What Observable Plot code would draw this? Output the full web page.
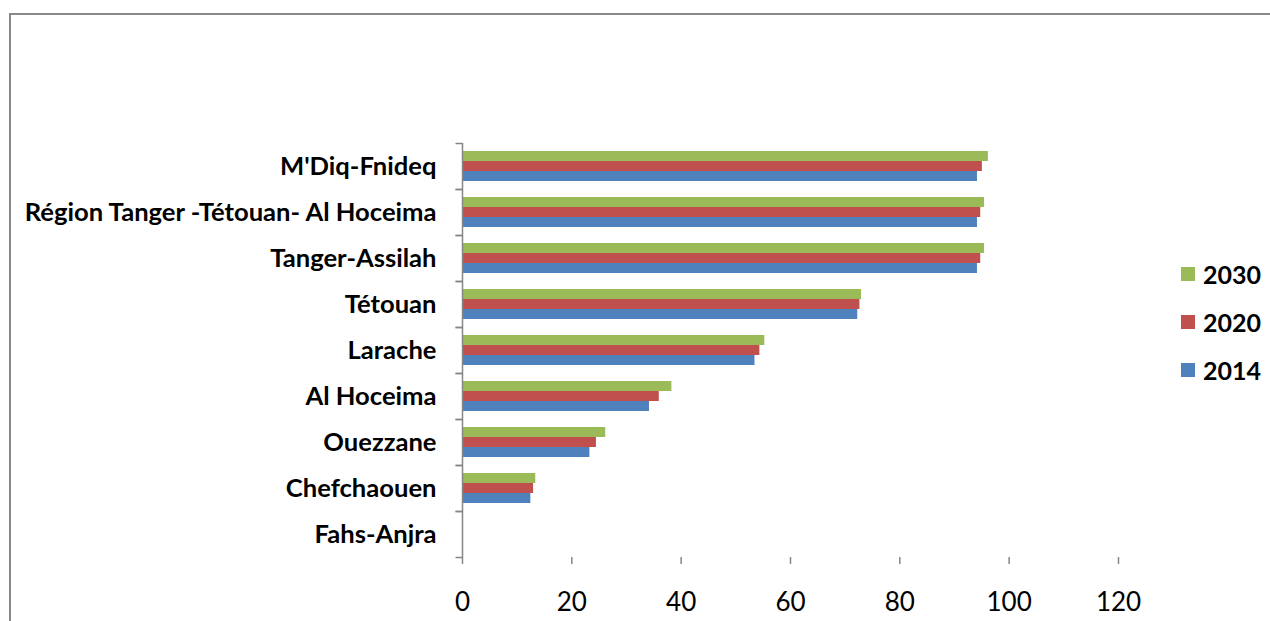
<!DOCTYPE html>
<html><head><meta charset="utf-8">
<script src="https://cdn.jsdelivr.net/npm/d3@7"></script>
<script src="https://cdn.jsdelivr.net/npm/@observablehq/plot@0.6"></script>
<style>
html,body{margin:0;padding:0;background:#fff;overflow:hidden;width:1270px;height:621px}
#wrap{position:relative;width:1270px;height:621px;overflow:hidden}
#border{position:absolute;left:9px;top:13px;width:1400px;height:800px;border:2px solid #898989;box-sizing:border-box;pointer-events:none}
#chart{position:absolute;left:0;top:0}
#legend{position:absolute;left:1181px;top:250px}
#legend .lg-swatches{font-family:Lato,sans-serif !important;font-size:25px !important;font-weight:bold;color:#000;margin:0 !important}
#legend .lg-swatch{height:48px;display:flex;align-items:center;padding:0 !important;margin:0 !important}
#legend .lg-swatch > svg{margin-right:8px !important}
</style></head><body>
<div id="wrap"><div id="border"></div><div id="chart"></div><div id="legend"></div></div>
<script>
const regions = ["M'Diq-Fnideq","Région Tanger -Tétouan- Al Hoceima","Tanger-Assilah","Tétouan","Larache","Al Hoceima","Ouezzane","Chefchaouen","Fahs-Anjra"];
const years = ["2030","2020","2014"];
const v2014 = [94.2, 94.2, 94.2, 72.3, 53.5, 34.2, 23.3, 12.5, 0];
const v2020 = [95.1, 94.8, 94.8, 72.7, 54.4, 36.0, 24.5, 13.0, 0];
const v2030 = [96.2, 95.5, 95.5, 73.0, 55.3, 38.3, 26.2, 13.4, 0];
const xTicks = [0, 20, 40, 60, 80, 100, 120];
const colors = ["#9BBB59", "#C0504D", "#4F81BD"];

const series = {"2030": v2030, "2020": v2020, "2014": v2014};
const rows = [];
regions.forEach((r, i) => years.forEach(y => rows.push({region: r, year: y, value: series[y][i]})));

const axisGray = "#868686";
const tickSym = {draw(ctx, size) { const r = Math.sqrt(size / Math.PI); ctx.moveTo(-r, 0); ctx.lineTo(0, 0); }};

const plot = Plot.plot({
  width: 1270, height: 621,
  marginLeft: 462, marginRight: 152, marginTop: 141, marginBottom: 63,
  style: {fontFamily: "Lato, sans-serif", background: "transparent", color: "#000"},
  x: {domain: [0, 120]},
  y: {domain: years, paddingInner: 0, paddingOuter: 0.765, axis: null},
  fy: {domain: regions, padding: 0},
  color: {domain: years, range: colors},
  marks: [
    Plot.barX(rows, {x: "value", y: "year", fy: "region", fill: "year"}),
    Plot.ruleX([0], {stroke: axisGray, strokeWidth: 1.5}),
    Plot.dot([0], {x: d => d, frameAnchor: "top", symbol: tickSym, r: 7, stroke: axisGray, strokeWidth: 1.5}),
    Plot.dot([0], {x: d => d, frameAnchor: "bottom", symbol: tickSym, r: 7, stroke: axisGray, strokeWidth: 1.5}),
    Plot.axisX({ticks: xTicks, tickSize: 7, tickPadding: 28, line: true, stroke: axisGray, strokeWidth: 1.5, fill: "#000", fontSize: 26, label: null}),
    Plot.axisFy({anchor: "left", tickSize: 0, tickPadding: 26, fontSize: 25.6, fontWeight: "bold", fill: "#000", label: null})
  ]
});
document.getElementById("chart").appendChild(plot);

const leg = Plot.legend({
  color: {domain: years, range: colors},
  legend: "swatches", columns: 1, swatchSize: 14, className: "lg"
});
document.getElementById("legend").appendChild(leg);
</script>
</body></html>
